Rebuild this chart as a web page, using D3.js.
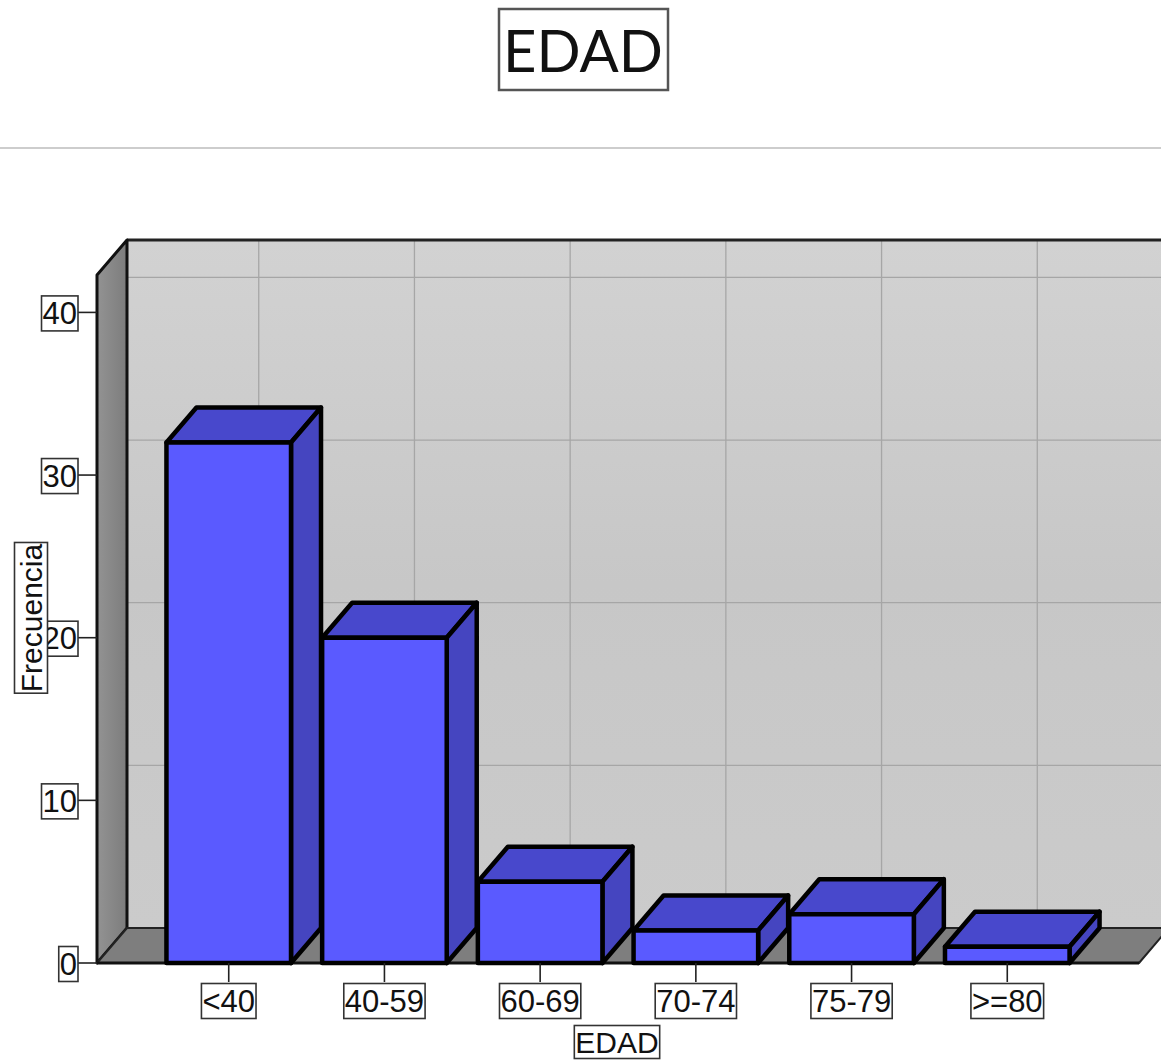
<!DOCTYPE html>
<html>
<head>
<meta charset="utf-8">
<script src="https://cdn.jsdelivr.net/npm/d3@7"></script>
<style>
  html, body { margin: 0; padding: 0; background: #ffffff; }
  svg { display: block; }
</style>
</head>
<body>
<svg id="chart" width="1161" height="1064"></svg>
<script>
// Frequency by age group
const categories = ["<40", "40-59", "60-69", "70-74", "75-79", ">=80"];
const frequencies = [32, 20, 5, 2, 3, 1];
const yTickValues = [0, 10, 20, 30, 40];
const chartTitle = "EDAD";
const xAxisTitle = "EDAD";
const yAxisTitle = "Frecuencia";

const svg = d3.select("#chart");
const W = 1161, H = 1064;

// Plot geometry (front plane) and 3D depth offset
const plotLeft = 97, plotRight = 1139, plotBottom = 963, plotTop = 275;
const depthX = 30, depthY = -35;

const x = d3.scaleBand()
  .domain(categories)
  .range([plotLeft, plotRight])
  .paddingInner(0.2)
  .paddingOuter(0.446);

const y = d3.scaleLinear()
  .domain([0, 42.3])
  .range([plotBottom, plotTop]);

const defs = svg.append("defs");
const wallGrad = defs.append("linearGradient").attr("id", "backWall")
  .attr("x1", 0).attr("y1", 0).attr("x2", 0).attr("y2", 1);
wallGrad.append("stop").attr("offset", "0%").attr("stop-color", "#d2d2d2");
wallGrad.append("stop").attr("offset", "50%").attr("stop-color", "#c7c7c7");
wallGrad.append("stop").attr("offset", "100%").attr("stop-color", "#cbcbcb");
const sideGrad = defs.append("linearGradient").attr("id", "sideWall")
  .attr("x1", 0).attr("y1", 0).attr("x2", 1).attr("y2", 0);
sideGrad.append("stop").attr("offset", "0%").attr("stop-color", "#939393");
sideGrad.append("stop").attr("offset", "100%").attr("stop-color", "#7c7c7c");

// Separator line under the title
svg.append("line")
  .attr("x1", 0).attr("x2", W).attr("y1", 148).attr("y2", 148)
  .attr("stroke", "#cdcdcd").attr("stroke-width", 2);

// Title in a box
const titleG = svg.append("g").attr("transform", "translate(583,49)");
titleG.append("rect")
  .attr("x", -84).attr("y", -40).attr("width", 169).attr("height", 81)
  .attr("fill", "#ffffff").attr("stroke", "#555").attr("stroke-width", 2.5);
titleG.append("text")
  .attr("text-anchor", "middle").attr("dominant-baseline", "central")
  .attr("y", 0)
  .attr("font-family", "Lato, 'Open Sans', sans-serif")
  .attr("font-weight", 400)
  .attr("font-size", 58)
  .attr("fill", "#111")
  .text(chartTitle);

// Back wall
const y0 = y(0), yTop = y(y.domain()[1]);
const backLeft = plotLeft + depthX, backRight = W + 40;
svg.append("rect")
  .attr("x", backLeft).attr("y", yTop + depthY)
  .attr("width", backRight - backLeft).attr("height", y0 - yTop)
  .attr("fill", "url(#backWall)");

// Back wall grid: horizontal at tick values, vertical at category centres
const grid = svg.append("g").attr("stroke", "#a6a6a6").attr("stroke-width", 1.3);
grid.selectAll("line.h")
  .data(yTickValues.filter(v => v > 0))
  .join("line")
  .attr("class", "h")
  .attr("x1", backLeft).attr("x2", backRight)
  .attr("y1", d => y(d) + depthY).attr("y2", d => y(d) + depthY);
grid.selectAll("line.v")
  .data(categories)
  .join("line")
  .attr("class", "v")
  .attr("x1", d => x(d) + x.bandwidth() / 2 + depthX)
  .attr("x2", d => x(d) + x.bandwidth() / 2 + depthX)
  .attr("y1", yTop + depthY).attr("y2", y0 + depthY);

// Top edge of back wall
svg.append("line")
  .attr("x1", backLeft).attr("x2", backRight)
  .attr("y1", yTop + depthY).attr("y2", yTop + depthY)
  .attr("stroke", "#222").attr("stroke-width", 3);

// Left wall
svg.append("path")
  .attr("d", `M${plotLeft},${y0} L${plotLeft},${yTop} L${backLeft},${yTop + depthY} L${backLeft},${y0 + depthY} Z`)
  .attr("fill", "url(#sideWall)")
  .attr("stroke", "#111").attr("stroke-width", 3).attr("stroke-linejoin", "round");

// Floor
svg.append("path")
  .attr("d", `M${plotLeft},${y0} L${backLeft},${y0 + depthY} L${plotRight + depthX},${y0 + depthY} L${plotRight},${y0} Z`)
  .attr("fill", "#7e7e7e")
  .attr("stroke", "#222").attr("stroke-width", 2).attr("stroke-linejoin", "round");
svg.append("line")
  .attr("x1", plotLeft).attr("x2", plotRight).attr("y1", y0).attr("y2", y0)
  .attr("stroke", "#111").attr("stroke-width", 3);

// Bars drawn as boxes: front, top and right side faces
const bw = x.bandwidth();
const bars = svg.append("g")
  .attr("stroke", "#000").attr("stroke-width", 4.5).attr("stroke-linejoin", "round");
categories.forEach((c, i) => {
  const x0 = x(c), x1 = x0 + bw;
  const yt = y(frequencies[i]);
  const g = bars.append("g");
  g.append("path")
    .attr("d", `M${x0},${yt} L${x0 + depthX},${yt + depthY} L${x1 + depthX},${yt + depthY} L${x1},${yt} Z`)
    .attr("fill", "#4848cc");
  g.append("path")
    .attr("d", `M${x1},${yt} L${x1 + depthX},${yt + depthY} L${x1 + depthX},${y0 + depthY} L${x1},${y0} Z`)
    .attr("fill", "#4545c0");
  g.append("rect")
    .attr("x", x0).attr("y", yt).attr("width", bw).attr("height", y0 - yt)
    .attr("fill", "#5a5aff");
});

// Boxed label helper
const labelFont = "'Liberation Sans', Arial, sans-serif";
function boxedText(parent, txt, size, anchor) {
  const g = parent.append("g");
  const rect = g.append("rect").attr("fill", "#ffffff").attr("stroke", "#333").attr("stroke-width", 1.6);
  const t = g.append("text")
    .attr("font-family", labelFont).attr("font-size", size)
    .attr("fill", "#111")
    .attr("text-anchor", anchor)
    .attr("dominant-baseline", "central")
    .text(txt);
  const b = t.node().getBBox();
  rect.attr("x", b.x - 1).attr("y", b.y).attr("width", b.width + 2).attr("height", b.height);
  return g;
}

// Y axis: tick marks and boxed labels
const yAxis = svg.append("g");
yTickValues.forEach(v => {
  yAxis.append("line")
    .attr("x1", 78).attr("x2", plotLeft).attr("y1", y(v)).attr("y2", y(v))
    .attr("stroke", "#222").attr("stroke-width", 1.6);
  boxedText(yAxis, String(v), 31, "end")
    .attr("transform", `translate(77,${y(v) + 1})`);
});

// X axis: tick marks and boxed labels
const xAxis = svg.append("g");
categories.forEach(c => {
  const cx = x(c) + bw / 2;
  xAxis.append("line")
    .attr("x1", cx).attr("x2", cx).attr("y1", y0).attr("y2", 982)
    .attr("stroke", "#222").attr("stroke-width", 1.6);
  boxedText(xAxis, c, 31, "middle")
    .attr("transform", `translate(${cx},1001)`);
});

// Axis titles
boxedText(svg, xAxisTitle, 30, "middle").attr("transform", "translate(617,1042)");
boxedText(svg, yAxisTitle, 30, "middle").attr("transform", "translate(31,618) rotate(-90)");
</script>
</body>
</html>
